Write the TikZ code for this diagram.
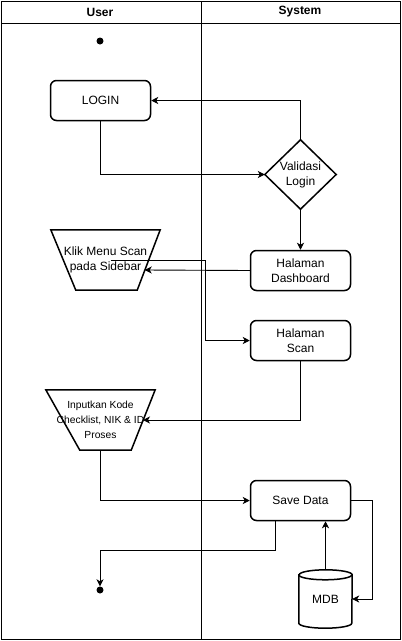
\documentclass[tikz,border=0pt]{standalone}
\usepackage{fontspec}
\setmainfont{Liberation Sans}
\usetikzlibrary{arrows.meta}
\begin{document}
\begin{tikzpicture}[x=1pt,y=-1pt,
  conn/.style={line width=0.9pt,-{Stealth[length=7pt,width=7pt,inset=2pt]}},
  box/.style={draw, line width=1.5pt, rounded corners=6pt, minimum width=100pt, minimum height=40pt, inner sep=0pt, align=center, font=\fontsize{12}{15}\selectfont},
  holder/.style={inner sep=0pt, align=center, font=\fontsize{12}{15}\selectfont},
  outline/.style={line width=1.5pt, line join=miter},
  dot/.style={circle, fill=black, inner sep=0pt, minimum size=7pt},
  head/.style={font=\bfseries\fontsize{12}{14}\selectfont}
]
\useasboundingbox (0,0) rectangle (402,641);
% pool frame
\draw[line width=0.9pt] (1,1) rectangle (400,639);
\draw[line width=0.9pt] (1,23) -- (400,23);
\draw[line width=0.9pt] (201,1) -- (201,639);
\node[head] (huser) at (100,12) {User};
\node[head] (hsys) at (300,12) {System};

% nodes
\node[dot] (start) at (100,41) {};
\node[box] (login) at (100.5,100.5) {LOGIN};
\node[holder, minimum width=71pt, minimum height=69pt] (val) at (300.5,174.5) {Validasi\\Login};
\draw[outline] (val.north) -- (val.east) -- (val.south) -- (val.west) -- cycle;
\node[holder, minimum width=109pt, minimum height=60pt] (klik) at (105.5,260) {Klik Menu Scan\\pada Sidebar};
\draw[outline] (klik.north west) -- (klik.north east) -- ([xshift=-23pt]klik.south east) -- ([xshift=25pt]klik.south west) -- cycle;
\node[box] (dash) at (300.5,270.5) {Halaman\\Dashboard};
\node[box] (scan) at (300.5,340.5) {Halaman\\Scan};
\node[holder, minimum width=109pt, minimum height=60pt, font=\fontsize{10.3}{15}\selectfont] (inp) at (100.5,420) {Inputkan Kode\\Checklist, NIK \& ID\\Proses};
\draw[outline] (inp.north west) -- (inp.north east) -- ([xshift=-24pt]inp.south east) -- ([xshift=34pt]inp.south west) -- cycle;
\node[box] (save) at (300.5,500.5) {Save Data};
\node[holder, minimum width=53pt, minimum height=58pt] (mdb) at (325.5,599) {MDB};
\draw[outline] ([yshift=-5pt]mdb.north west) -- ([yshift=5pt]mdb.south west)
  arc[start angle=180, end angle=360, x radius=26.5pt, y radius=5pt]
  -- ([yshift=-5pt]mdb.north east)
  arc[start angle=0, end angle=180, x radius=26.5pt, y radius=5pt] -- cycle;
\draw[outline] ([yshift=-5pt]mdb.north west) arc[start angle=180, end angle=360, x radius=26.5pt, y radius=5pt];
\node[dot] (end) at (100,590) {};

% coordinates on shape borders
\coordinate (klikE) at (144.7,270);
\coordinate (klikIn) at (110.5,260);
\coordinate (inpE) at (143,420);
\coordinate (inpS) at (100,450);
\coordinate (saveS) at (275.7,520.5);

% connectors
\draw[conn] (login.south) |- (val.west);
\draw[conn] (val.north) |- (login.east);
\draw[conn] (val.south) -- (dash.north);
\draw[conn] (dash.west) -- (klikE);
\draw[conn] (klikIn) -- (205.7,260) |- (scan.west);
\draw[conn] (scan.south) |- (inpE);
\draw[conn] (inpS) |- (save.west);
\draw[conn] (saveS) -- (275.7,550.7) -| (end.north);
\draw[conn] (mdb.north) -- (save.south -| mdb.north);
\draw[conn] (save.east) -- (372,500.5) |- (mdb.east);
\end{tikzpicture}
\end{document}
